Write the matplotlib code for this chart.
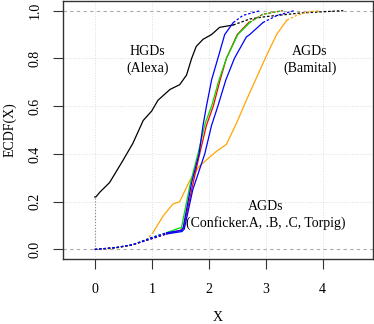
import matplotlib
matplotlib.use("Agg")
import matplotlib.pyplot as plt
import numpy as np

plt.rcParams['font.family'] = ['Liberation Serif', 'DejaVu Serif']

# ECDF curves (x, F(x))
alexa_x = [0.0, 0.02, 0.09, 0.26, 0.5, 0.67, 0.85, 1.0, 1.11, 1.32, 1.49, 1.61, 1.70, 1.78, 1.9, 2.05, 2.19, 2.43, 2.72, 3.0, 3.6, 4.36]
alexa_y = [0.22, 0.22, 0.24, 0.28, 0.375, 0.445, 0.54, 0.58, 0.625, 0.67, 0.69, 0.73, 0.80, 0.85, 0.88, 0.90, 0.93, 0.94, 0.965, 0.975, 0.99, 1.0]

bamital_x = [0.0, 0.3, 0.6, 0.91, 1.02, 1.2, 1.37, 1.49, 1.67, 1.84, 2.13, 2.31, 2.49, 2.66, 2.84, 3.01, 3.19, 3.37, 3.54, 3.75, 3.95]
bamital_y = [0.0, 0.003, 0.015, 0.04, 0.07, 0.14, 0.19, 0.20, 0.29, 0.35, 0.41, 0.44, 0.53, 0.625, 0.72, 0.81, 0.90, 0.96, 0.98, 0.995, 1.0]

confA_x = [0.0, 0.38, 0.67, 1.0, 1.26, 1.5, 1.56, 1.70, 1.84, 1.96, 2.08, 2.2, 2.31, 2.5, 2.7, 2.95, 3.3]
confA_y = [0.0, 0.008, 0.02, 0.045, 0.065, 0.08, 0.09, 0.25, 0.40, 0.52, 0.60, 0.71, 0.80, 0.90, 0.95, 0.985, 1.0]

confB_x = [0.0, 0.38, 0.67, 1.0, 1.26, 1.49, 1.52, 1.68, 1.81, 1.94, 2.05, 2.18, 2.31, 2.51, 2.72, 2.95, 3.3]
confB_y = [0.0, 0.008, 0.02, 0.05, 0.07, 0.09, 0.09, 0.28, 0.40, 0.53, 0.60, 0.71, 0.80, 0.90, 0.95, 0.985, 1.0]

confC_x = [0.0, 0.38, 0.67, 1.0, 1.26, 1.52, 1.55, 1.70, 1.83, 1.90, 1.96, 2.05, 2.16, 2.28, 2.43, 2.6, 2.9]
confC_y = [0.0, 0.008, 0.02, 0.05, 0.07, 0.08, 0.09, 0.28, 0.40, 0.52, 0.60, 0.71, 0.80, 0.90, 0.95, 0.98, 1.0]

torpig_x = [0.0, 0.38, 0.67, 1.0, 1.26, 1.53, 1.57, 1.72, 1.93, 2.05, 2.16, 2.3, 2.45, 2.66, 2.72, 2.95, 3.2, 3.5]
torpig_y = [0.0, 0.008, 0.02, 0.045, 0.065, 0.075, 0.085, 0.25, 0.40, 0.52, 0.60, 0.71, 0.80, 0.89, 0.90, 0.95, 0.98, 1.0]

curves = [
    (alexa_x, alexa_y, 'black'),
    (bamital_x, bamital_y, 'orange'),
    (confA_x, confA_y, 'red'),
    (confB_x, confB_y, '#00DD00'),
    (confC_x, confC_y, 'blue'),
    (torpig_x, torpig_y, 'blue'),
]

fig = plt.figure(figsize=(3.74, 3.24), dpi=100)
ax = fig.add_axes([0.168, 0.2006, 0.829, 0.796])

for v in [0, 1, 2, 3, 4]:
    ax.axvline(v, color='#dddddd', lw=0.7, ls=':', zorder=0)
for v in [0.2, 0.4, 0.6, 0.8]:
    ax.axhline(v, color='#dddddd', lw=0.7, ls=':', zorder=0)
ax.axhline(0, color='#aaaaaa', lw=0.8, ls=(0, (3, 3)), zorder=1)
ax.axhline(1, color='#aaaaaa', lw=0.8, ls=(0, (3, 3)), zorder=1)
ax.plot([0, 0], [0, alexa_y[0]], color='#888888', lw=0.8, ls=':')

for xs, ys, col in curves:
    xs = np.array(xs)
    ys = np.array(ys)
    body = (ys >= 0.06) & (ys <= 0.96)
    idx = np.where(body)[0]
    lo, hi = idx[0], idx[-1]
    ax.plot(xs[lo:hi + 1], ys[lo:hi + 1], color=col, lw=0.9)
    ax.plot(xs[:lo + 1], ys[:lo + 1], color=col, lw=0.9, ls=(0, (2, 1.5)))
    ax.plot(xs[hi:], ys[hi:], color=col, lw=0.9, ls=(0, (2, 1.5)))

fs = 10
ax.text(0.93, 0.83, 'HGDs', ha='center', va='center', fontsize=fs)
ax.text(0.93, 0.76, '(Alexa)', ha='center', va='center', fontsize=fs)
ax.text(3.77, 0.83, 'AGDs', ha='center', va='center', fontsize=fs)
ax.text(3.77, 0.76, '(Bamital)', ha='center', va='center', fontsize=fs)
ax.text(3.0, 0.18, 'AGDs', ha='center', va='center', fontsize=fs)
ax.text(3.0, 0.11, '(Conficker.A, .B, .C, Torpig)', ha='center', va='center', fontsize=fs)

ax.set_xlim(-0.56, 4.88)
ax.set_ylim(-0.04, 1.04)
ax.set_xticks([0, 1, 2, 3, 4])
ax.set_yticks([0.0, 0.2, 0.4, 0.6, 0.8, 1.0])
ax.set_yticklabels(['0.0', '0.2', '0.4', '0.6', '0.8', '1.0'], rotation=90, va='center')
ax.tick_params(direction='out', length=7, width=0.8, color='#333333', labelsize=fs)
ax.tick_params(axis='x', pad=10)
ax.tick_params(axis='y', pad=8)
for s in ax.spines.values():
    s.set_color('#333333')
    s.set_linewidth(1.0)
ax.set_xlabel('X', fontsize=fs, labelpad=11)
ax.set_ylabel('ECDF(X)', fontsize=fs, labelpad=9)

fig.savefig('out.png', dpi=100)
